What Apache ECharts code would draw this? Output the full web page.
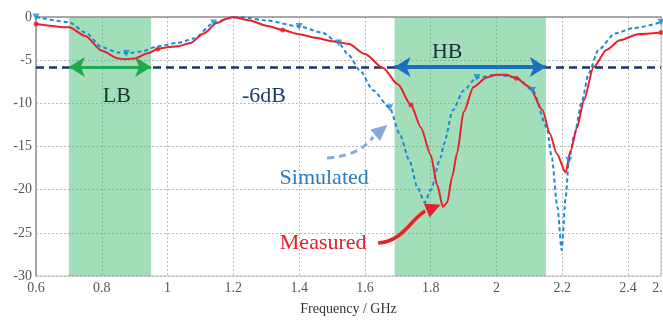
<!DOCTYPE html>
<html><head><meta charset="utf-8">
<script src="https://cdn.jsdelivr.net/npm/echarts@6/dist/echarts.min.js"></script>
<style>html,body{margin:0;padding:0;background:#fff}#c{width:663px;height:320px}</style>
</head><body><div id="c"></div>
<script>
// ---- data ----
const measFreq = [0.6,0.7,0.75,0.8,0.85,0.87,0.9,0.94,0.97,1.0,1.03,1.07,1.11,1.15,1.18,1.2,1.25,1.3,1.35,1.4,1.45,1.5,1.55,1.6,1.655,1.7,1.74,1.77,1.8,1.82,1.837,1.85,1.865,1.88,1.9,1.93,1.97,2.0,2.03,2.06,2.1,2.14,2.162,2.183,2.21,2.225,2.245,2.265,2.295,2.335,2.375,2.43,2.5];
const measVal  = [-0.8,-1.2,-2.2,-3.9,-4.8,-4.9,-4.8,-4.2,-3.7,-3.5,-3.4,-3.0,-1.9,-0.7,-0.2,0.0,-0.4,-1.0,-1.5,-2.0,-2.4,-2.8,-3.1,-4.3,-5.9,-7.8,-10.2,-12.8,-16.0,-19.5,-22.0,-21.5,-18.5,-15.8,-11.0,-8.1,-7.0,-6.7,-6.7,-7.1,-8.1,-10.8,-13.5,-15.8,-18.0,-15.5,-12.8,-9.7,-5.8,-3.8,-2.7,-2.0,-1.8];
const measMarkerIdx = [0,8,18,26,39,52];
const simFreq = [0.6,0.7,0.75,0.8,0.85,0.875,0.92,0.97,1.03,1.08,1.14,1.19,1.22,1.3,1.4,1.47,1.52,1.55,1.585,1.625,1.675,1.705,1.735,1.76,1.782,1.8,1.83,1.84,1.867,1.9,1.94,2.0,2.06,2.11,2.153,2.168,2.185,2.198,2.21,2.22,2.237,2.26,2.28,2.31,2.36,2.415,2.5];
const simVal  = [0.0,-0.6,-1.8,-3.5,-4.1,-4.2,-4.0,-3.4,-3.0,-2.5,-0.7,-0.1,0.0,-0.4,-1.1,-1.8,-3.0,-4.4,-6.2,-8.5,-10.5,-13.5,-16.6,-19.8,-21.5,-20.0,-16.3,-14.7,-10.8,-8.5,-7.0,-6.7,-7.0,-8.5,-12.8,-16.3,-22.0,-27.0,-21.0,-16.6,-13.5,-9.7,-6.5,-3.8,-1.9,-1.3,-0.6];
const simMarkerIdx = [0,5,10,14,16,20,30,33,39,46];
const xTicks = {min:0.6, max:2.5, step:0.2};
const yTicks = {min:-30, max:0, step:5};
const bands = [{name:'LB', from:0.7, to:0.95, color:'#1faa50'}, {name:'HB', from:1.69, to:2.15, color:'#1b6fc0'}];
const threshold = -5.8;
const labels = [
  {text:'LB', x:0.846, y:-9.15, color:'#17352b'},
  {text:'-6dB', x:1.293, y:-9.15, color:'#1f3b6e'},
  {text:'HB', x:1.85, y:-4.06, color:'#17303a'},
  {text:'Simulated', x:1.476, y:-18.66, color:'#2c7cc0'},
  {text:'Measured', x:1.473, y:-26.2, color:'#e3202a'}
];
// annotation arrows in data coordinates: start, cp1, cp2, end, tip
const simArrow = [[1.485,-16.34],[1.56,-16.1],[1.6,-15.2],[1.625,-13.9],[1.668,-12.5]];
const measArrow = [[1.64,-26.19],[1.716,-25.96],[1.737,-23.52],[1.783,-22.48],[1.83,-21.75]];

const FONT = '"Liberation Serif","DejaVu Serif",serif';
const chart = echarts.init(document.getElementById('c'));
const pairs = (xs, ys) => xs.map((x,i)=>[x, ys[i]]);
const option = {
  animation:false,
  grid:{left:36, right:2, top:17, bottom:44, show:true, borderColor:'#bdbdbd', borderWidth:1,
    containLabel:false, outerBoundsMode:'none'},
  xAxis:{type:'value', min:xTicks.min, max:xTicks.max, interval:xTicks.step,
    name:'Frequency / GHz', nameLocation:'middle', nameGap:26,
    nameTextStyle:{fontFamily:FONT, fontSize:14, color:'#333'},
    axisLine:{show:true, lineStyle:{color:'#999', width:1.5}}, axisTick:{show:false},
    axisLabel:{fontFamily:FONT, fontSize:14, color:'#555', margin:5, showMaxLabel:true, hideOverlap:false,
      formatter:v=>String(+(+v).toFixed(1))},
    splitLine:{show:true, lineStyle:{color:'#bbb', type:[2,2], width:1}}},
  yAxis:{type:'value', min:yTicks.min, max:yTicks.max, interval:yTicks.step,
    axisLine:{show:true, lineStyle:{color:'#999', width:1.5}}, axisTick:{show:false},
    axisLabel:{fontFamily:FONT, fontSize:14, color:'#555', margin:4},
    splitLine:{show:true, lineStyle:{color:'#bbb', type:[2,2], width:1}}},
  series:[
    {type:'line', data:[], z:1, silent:true,
      markArea:{silent:true, itemStyle:{color:'rgba(72,190,120,0.5)'},
        data:bands.map(b=>[{xAxis:b.from},{xAxis:b.to}])},
      markLine:{silent:true, symbol:'none', label:{show:false},
        lineStyle:{color:'#1c3566', width:2.5, type:[8,5]},
        data:[[{coord:[xTicks.min, threshold]},{coord:[xTicks.max, threshold]}]]}},
    {type:'line', data:[], z:4, silent:true,
      markLine:{silent:true, symbol:['arrow','arrow'], symbolSize:[15,16], label:{show:false},
        data:bands.map(b=>[{coord:[b.from, threshold], lineStyle:{color:b.color, width:b.name==='HB'?4:3, type:'solid'}, itemStyle:{color:b.color}},
                           {coord:[b.to, threshold]}])}},
    {name:'Simulated', type:'line', data:pairs(simFreq, simVal), z:5, smooth:0.25, smoothMonotone:'x',
      showSymbol:false, lineStyle:{color:'#1e88d8', width:2, type:[4,3]}},
    {name:'Measured', type:'line', data:pairs(measFreq, measVal), z:6, smooth:0.25, smoothMonotone:'x',
      showSymbol:false, lineStyle:{color:'#e8202a', width:2}},
    {type:'scatter', data:simMarkerIdx.map(i=>[simFreq[i], simVal[i]]), z:7, symbol:'triangle', symbolRotate:180,
      symbolSize:7, itemStyle:{color:'#1e88d8'}},
    {type:'scatter', data:measMarkerIdx.map(i=>[measFreq[i], measVal[i]]), z:7, symbol:'circle',
      symbolSize:5, itemStyle:{color:'#e8202a'}}
  ]
};
chart.setOption(option);

const P = p => chart.convertToPixel({gridIndex:0}, p);
function arrow(pts, color, dashed, lw, headLen, headW){
  const [s,c1,c2,e,t] = pts.map(P);
  const dx=t[0]-e[0], dy=t[1]-e[1], L=Math.hypot(dx,dy);
  const ux=dx/L, uy=dy/L;
  const bx=t[0]-ux*headLen, by=t[1]-uy*headLen;
  return [
    {type:'bezierCurve', shape:{x1:s[0],y1:s[1],cpx1:c1[0],cpy1:c1[1],cpx2:c2[0],cpy2:c2[1],x2:e[0],y2:e[1]},
      style:{stroke:color, lineWidth:lw, fill:null, lineDash:dashed?[7,5]:null}, z:20},
    {type:'polygon', shape:{points:[[t[0],t[1]],[bx-uy*headW/2, by+ux*headW/2],[bx+uy*headW/2, by-ux*headW/2]]},
      style:{fill:color}, z:20}
  ];
}
const g = [];
labels.forEach(l=>{
  const p = P([l.x,l.y]);
  g.push({type:'text', x:p[0], y:p[1], z:20, style:{text:l.text, fill:l.color, font:'22px '+FONT, textAlign:'center', textVerticalAlign:'middle'}});
});
g.push(...arrow(simArrow, '#85a9d8', true, 3, 16, 15));
g.push(...arrow(measArrow, '#e8202a', false, 3.5, 15, 15));
chart.setOption({graphic:g});
</script></body></html>
